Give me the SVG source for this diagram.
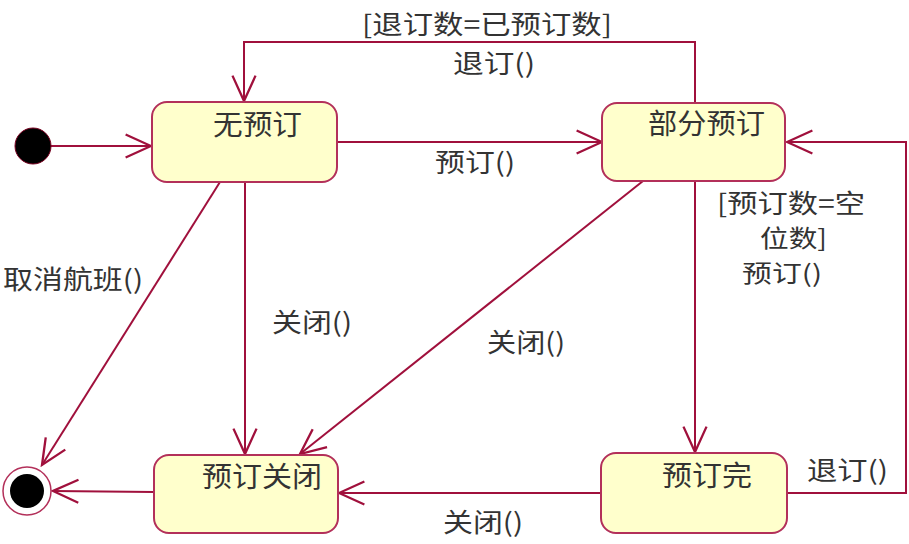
<svg xmlns="http://www.w3.org/2000/svg" width="909" height="544" viewBox="0 0 909 544">
<style>
.state{fill:#FFFFCC;stroke:#B3305A;stroke-width:2}
.conn{fill:none;stroke:#A0103C;stroke-width:2}
.name{font-family:"Noto Sans CJK SC","Liberation Sans",sans-serif;font-size:28px;fill:#333}
.lbl{font-family:"Noto Sans CJK SC","Liberation Sans",sans-serif;font-size:26px;fill:#333}
.sm{font-size:24px}
</style>
<defs>
<marker id="open" markerUnits="userSpaceOnUse" markerWidth="30" markerHeight="30" viewBox="-24 -12 26 24" refX="0" refY="0" orient="auto">
<path d="M-22,-10 L0,0 L-22,10" fill="none" stroke="#A0103C" stroke-width="2"/>
</marker>
</defs>
<rect width="909" height="544" fill="#fff"/>
<g id="connectors">
<line class="conn" x1="50" y1="146" x2="151" y2="146" marker-end="url(#open)"/>
<polyline class="conn" points="695,103 695,42 244,42 244,101" marker-end="url(#open)"/>
<line class="conn" x1="337" y1="142" x2="602" y2="142" marker-end="url(#open)"/>
<polyline class="conn" points="787,493 906,493 906,142 787,142" marker-end="url(#open)"/>
<line class="conn" x1="695" y1="181" x2="695" y2="452" marker-end="url(#open)"/>
<line class="conn" x1="643" y1="181" x2="300" y2="454" marker-end="url(#open)"/>
<line class="conn" x1="245" y1="182" x2="245" y2="454" marker-end="url(#open)"/>
<line class="conn" x1="220" y1="182" x2="42" y2="465" marker-end="url(#open)"/>
<line class="conn" x1="601" y1="493" x2="339" y2="493" marker-end="url(#open)"/>
<line class="conn" x1="154" y1="492" x2="53" y2="491" marker-end="url(#open)"/>
<text class="lbl" x="362" y="34" textLength="250" lengthAdjust="spacingAndGlyphs">[退订数=已预订数]</text>
<text class="lbl" x="453" y="73" textLength="82" lengthAdjust="spacingAndGlyphs">退订()</text>
<text class="lbl" x="435" y="172" textLength="80" lengthAdjust="spacingAndGlyphs">预订()</text>
<text class="lbl" x="3" y="289" textLength="140" lengthAdjust="spacingAndGlyphs">取消航班()</text>
<text class="lbl" x="272" y="332" textLength="80" lengthAdjust="spacingAndGlyphs">关闭()</text>
<text class="lbl" x="487" y="352" textLength="78" lengthAdjust="spacingAndGlyphs">关闭()</text>
<text class="lbl" x="443" y="532" textLength="80" lengthAdjust="spacingAndGlyphs">关闭()</text>
<text class="lbl" x="807" y="480" textLength="81" lengthAdjust="spacingAndGlyphs">退订()</text>
<text class="lbl" x="717" y="213" textLength="148" lengthAdjust="spacingAndGlyphs">[预订数=空</text>
<text class="lbl sm" x="760" y="247" textLength="67" lengthAdjust="spacingAndGlyphs">位数]</text>
<text class="lbl sm" x="742" y="282" textLength="80" lengthAdjust="spacingAndGlyphs">预订()</text>
</g>
<g id="initial">
<circle cx="33" cy="146" r="18" fill="#000" stroke="#7a0020" stroke-width="1"/>
</g>
<g id="final">
<circle cx="27" cy="491" r="24" fill="#fff" stroke="#B3305A" stroke-width="1.5"/>
<circle cx="27" cy="491" r="17" fill="#000"/>
</g>
<g id="s-none">
<rect class="state" x="152" y="102" width="185" height="80" rx="15"/>
<text class="name" x="213" y="135" textLength="89" lengthAdjust="spacingAndGlyphs">无预订</text>
</g>
<g id="s-partial">
<rect class="state" x="602" y="103" width="183" height="78" rx="15"/>
<text class="name" x="648" y="134" textLength="117" lengthAdjust="spacingAndGlyphs">部分预订</text>
</g>
<g id="s-closed">
<rect class="state" x="154" y="455" width="184" height="78" rx="15"/>
<text class="name" x="202" y="487" textLength="120" lengthAdjust="spacingAndGlyphs">预订关闭</text>
</g>
<g id="s-full">
<rect class="state" x="601" y="453" width="186" height="80" rx="15"/>
<text class="name" x="662" y="486" textLength="90" lengthAdjust="spacingAndGlyphs">预订完</text>
</g>
</svg>
